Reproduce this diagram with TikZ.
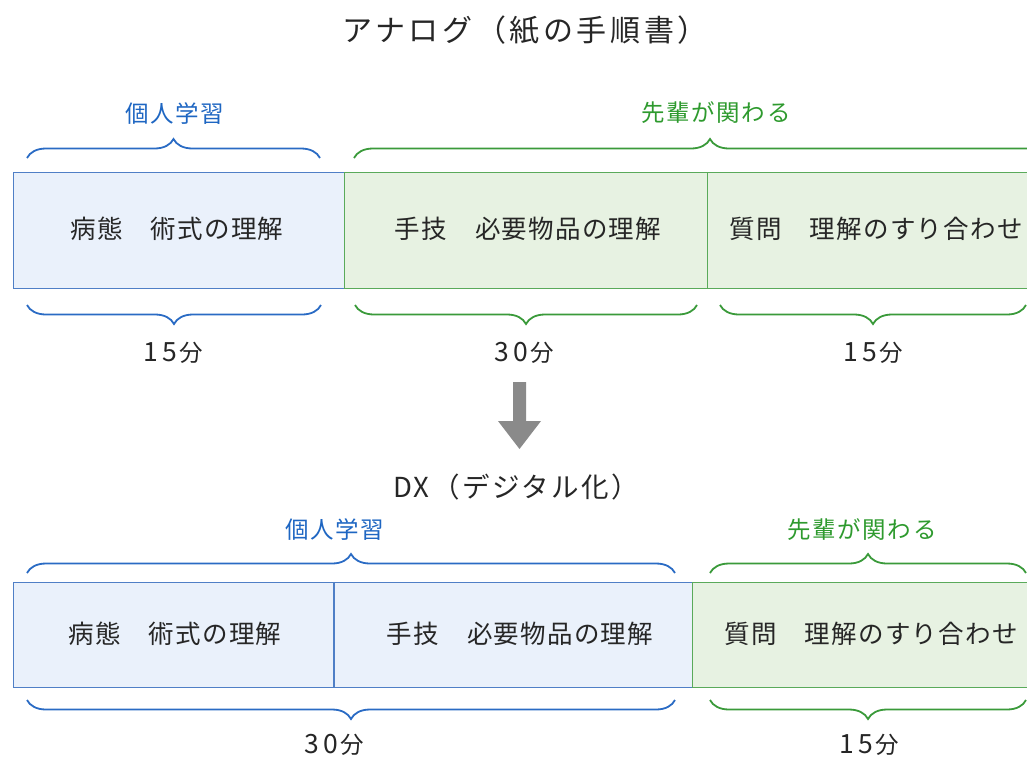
\documentclass[tikz,border=0pt]{standalone}
\usepackage{fontspec}
\setmainfont{Noto Sans CJK JP}
\usetikzlibrary{decorations.pathreplacing}
\definecolor{bstroke}{HTML}{2A6BC4}
\definecolor{btext}{HTML}{1E66C2}
\definecolor{bfill}{HTML}{EAF1FB}
\definecolor{bline}{HTML}{4F7FC6}
\definecolor{gstroke}{HTML}{3A9A3A}
\definecolor{gtext}{HTML}{2E9A2E}
\definecolor{gfill}{HTML}{E7F2E2}
\definecolor{gline}{HTML}{5AAA5A}
\definecolor{arrowgray}{HTML}{8A8A8A}
\newcommand\dgt[1]{\makebox[19pt]{\fontsize{26.5}{30}\selectfont #1}}
\tikzset{
  bbox/.style={draw=bline, fill=bfill, line width=1pt, inner sep=0pt, anchor=north west},
  gbox/.style={draw=gline, fill=gfill, line width=1pt, inner sep=0pt, anchor=north west},
  boxtext/.style={font=\fontsize{25.5}{30}\selectfont\addfontfeature{LetterSpace=5}, text=black!85},
  upbrace/.style={decorate, decoration={brace, amplitude=19pt}, line width=1.8pt},
  downbrace/.style={decorate, decoration={brace, amplitude=19pt, mirror}, line width=1.8pt},
  lbl/.style={font=\fontsize{23.5}{28}\selectfont\addfontfeature{LetterSpace=7}},
  mins/.style={font=\fontsize{23.5}{27}\selectfont, text=black!85},
  titletext/.style={font=\fontsize{30}{36}\selectfont\addfontfeature{LetterSpace=12}, text=black!85},
  dxtitle/.style={font=\fontsize{27.5}{33}\selectfont\addfontfeature{LetterSpace=9}, text=black!85},
}
\begin{document}
\begin{tikzpicture}[x=1pt,y=-1pt]
\useasboundingbox (0,0) rectangle (1027,758);
\begin{scope}
\clip (0,0) rectangle (1027,758);
% title
\node[titletext] (t1) at (525,30) {アナログ（紙の手順書）};
% top row
\node[bbox, minimum width=331pt, minimum height=116pt] (a1) at (13,172) {};
\node[gbox, minimum width=363pt, minimum height=116pt] (a2) at (344,172) {};
\node[gbox, minimum width=340pt, minimum height=116pt] (a3) at (707,172) {};
\node[boxtext] at (177,229) {病態　術式の理解};
\node[boxtext] at (528,229) {手技　必要物品の理解};
\node[boxtext] at (876,229) {質問　理解のすり合わせ};
% top braces above
\coordinate (ub1s) at (27,158); \coordinate (ub1e) at (320,158);
\coordinate (ug1s) at (354,158); \coordinate (ug1e) at (1066,158);
\draw[upbrace, bstroke] (ub1s) -- (ub1e);
\draw[upbrace, gstroke] (ug1s) -- (ug1e);
\node[lbl, text=btext] (l1) at (175,114) {個人学習};
\node[lbl, text=gtext] (l2) at (716,113) {先輩が関わる};
% top braces below
\coordinate (db1s) at (27,305); \coordinate (db1e) at (321,305);
\coordinate (dg1s) at (355,305); \coordinate (dg1e) at (697,305);
\coordinate (dg2s) at (720,305); \coordinate (dg2e) at (1026,305);
\draw[downbrace, bstroke] (db1s) -- (db1e);
\draw[downbrace, gstroke] (dg1s) -- (dg1e);
\draw[downbrace, gstroke] (dg2s) -- (dg2e);
\node[mins] at (172,353) {\dgt{1}\dgt{5}分};
\node[mins] at (523,353) {\dgt{3}\dgt{0}分};
\node[mins] at (872,353) {\dgt{1}\dgt{5}分};
% arrow
\fill[arrowgray] (513,382) -- (526,382) -- (526,421) -- (541,421) -- (519.5,449) -- (498,421) -- (513,421) -- cycle;
% second title
\node[dxtitle] (t2) at (516,487) {DX（デジタル化）};
% bottom row
\node[bbox, minimum width=320pt, minimum height=105pt] (b1) at (13,582) {};
\node[bbox, minimum width=359pt, minimum height=105pt] (b2) at (333,582) {};
\node[gbox, minimum width=355pt, minimum height=105pt] (b3) at (692,582) {};
\draw[bline, line width=1pt] (b1.north east) -- (b1.south east);
\node[boxtext] at (175,634) {病態　術式の理解};
\node[boxtext] at (520,634) {手技　必要物品の理解};
\node[boxtext] at (871,634) {質問　理解のすり合わせ};
% bottom braces above
\coordinate (ub2s) at (27,573); \coordinate (ub2e) at (675,573);
\coordinate (ug2s) at (710,573); \coordinate (ug2e) at (1026,573);
\draw[upbrace, bstroke] (ub2s) -- (ub2e);
\draw[upbrace, gstroke] (ug2s) -- (ug2e);
\node[lbl, text=btext] at (335,530) {個人学習};
\node[lbl, text=gtext] at (862,530) {先輩が関わる};
% bottom braces below
\coordinate (db2s) at (27,700); \coordinate (db2e) at (675,700);
\coordinate (dg3s) at (710,700); \coordinate (dg3e) at (1026,700);
\draw[downbrace, bstroke] (db2s) -- (db2e);
\draw[downbrace, gstroke] (dg3s) -- (dg3e);
\node[mins] at (333,745) {\dgt{3}\dgt{0}分};
\node[mins] at (868,745) {\dgt{1}\dgt{5}分};
\end{scope}
\end{tikzpicture}
\end{document}
